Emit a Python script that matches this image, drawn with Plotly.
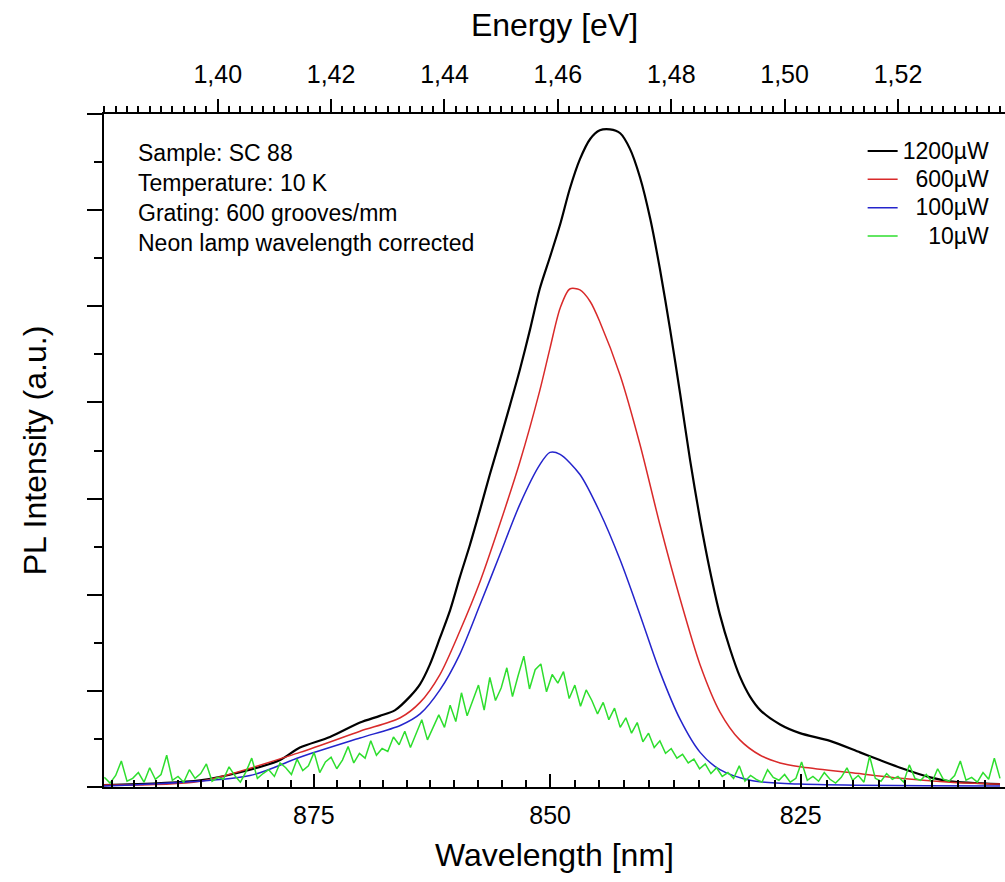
import plotly.graph_objects as go

HC = 1239.84  # eV * nm, photon energy <-> wavelength

# ---------------- data ----------------
series_labels = ["1200\u00b5W", "\u00a0\u00a0600\u00b5W", "\u00a0\u00a0100\u00b5W", "\u00a0\u00a0\u00a0\u00a010\u00b5W"]
series_colors = ["#000000", "#d92a2a", "#2424cc", "#2ede2e"]

black_energy = [1.3799, 1.3969, 1.4057, 1.4110, 1.4145, 1.4198, 1.4251, 1.4286, 1.4313, 1.4339,
                1.4357, 1.4374, 1.4392, 1.4410, 1.4427, 1.4445, 1.4463, 1.4480, 1.4498, 1.4516,
                1.4533, 1.4551, 1.4568, 1.4586, 1.4604, 1.4621, 1.4639, 1.4657, 1.4674, 1.4692,
                1.4710, 1.4727, 1.4745, 1.4763, 1.4780, 1.4798, 1.4816, 1.4833, 1.4851, 1.4868,
                1.4886, 1.4904, 1.4921, 1.4939, 1.4957, 1.4992, 1.5027, 1.5080, 1.5133, 1.5168,
                1.5204, 1.5257, 1.5292, 1.5380]
black_intensity = [0.02, 0.07, 0.18, 0.28, 0.41, 0.52, 0.67, 0.74, 0.80, 0.94,
                   1.07, 1.27, 1.55, 1.84, 2.18, 2.52, 2.89, 3.25, 3.61, 3.98,
                   4.34, 4.76, 5.18, 5.51, 5.85, 6.22, 6.53, 6.74, 6.83, 6.84,
                   6.80, 6.64, 6.34, 5.91, 5.39, 4.76, 4.08, 3.41, 2.78, 2.26,
                   1.79, 1.43, 1.15, 0.94, 0.80, 0.65, 0.56, 0.48, 0.36, 0.28,
                   0.20, 0.10, 0.06, 0.03]

red_energy = [1.3799, 1.3969, 1.4145, 1.4251, 1.4322, 1.4357, 1.4392, 1.4427, 1.4463, 1.4498,
              1.4533, 1.4568, 1.4586, 1.4604, 1.4621, 1.4639, 1.4657, 1.4674, 1.4710, 1.4745,
              1.4780, 1.4816, 1.4851, 1.4886, 1.4921, 1.4957, 1.4992, 1.5027, 1.5115, 1.5204,
              1.5292, 1.5380]
red_intensity = [0.02, 0.06, 0.36, 0.58, 0.72, 0.88, 1.17, 1.62, 2.14, 2.74,
                 3.38, 4.12, 4.56, 4.98, 5.18, 5.17, 5.05, 4.84, 4.28, 3.56,
                 2.73, 1.95, 1.27, 0.78, 0.49, 0.33, 0.25, 0.21, 0.15, 0.09,
                 0.05, 0.03]

blue_energy = [1.3799, 1.4057, 1.4145, 1.4251, 1.4322, 1.4357, 1.4392, 1.4427, 1.4463, 1.4498,
               1.4533, 1.4568, 1.4586, 1.4604, 1.4639, 1.4674, 1.4710, 1.4745, 1.4780, 1.4816,
               1.4851, 1.4886, 1.4939, 1.5027, 1.5380]
blue_intensity = [0.01, 0.12, 0.31, 0.51, 0.64, 0.76, 1.01, 1.38, 1.90, 2.42,
                  2.94, 3.35, 3.48, 3.46, 3.25, 2.86, 2.36, 1.79, 1.20, 0.70,
                  0.36, 0.18, 0.07, 0.03, 0.01]

green_energy = [1.380, 1.381, 1.382, 1.383, 1.384, 1.385, 1.386, 1.387, 1.388, 1.389,
                1.390, 1.391, 1.392, 1.393, 1.394, 1.395, 1.396, 1.397, 1.398, 1.399,
                1.400, 1.401, 1.402, 1.403, 1.404, 1.405, 1.406, 1.407, 1.408, 1.409,
                1.410, 1.411, 1.412, 1.413, 1.414, 1.415, 1.416, 1.417, 1.418, 1.419,
                1.420, 1.421, 1.422, 1.423, 1.424, 1.425, 1.426, 1.427, 1.428, 1.429,
                1.430, 1.431, 1.432, 1.433, 1.434, 1.435, 1.436, 1.437, 1.438, 1.439,
                1.440, 1.441, 1.442, 1.443, 1.444, 1.445, 1.446, 1.447, 1.448, 1.449,
                1.450, 1.451, 1.452, 1.453, 1.454, 1.455, 1.456, 1.457, 1.458, 1.459,
                1.460, 1.461, 1.462, 1.463, 1.464, 1.465, 1.466, 1.467, 1.468, 1.469,
                1.470, 1.471, 1.472, 1.473, 1.474, 1.475, 1.476, 1.477, 1.478, 1.479,
                1.480, 1.481, 1.482, 1.483, 1.484, 1.485, 1.486, 1.487, 1.488, 1.489,
                1.490, 1.491, 1.492, 1.493, 1.494, 1.495, 1.496, 1.497, 1.498, 1.499,
                1.500, 1.501, 1.502, 1.503, 1.504, 1.505, 1.506, 1.507, 1.508, 1.509,
                1.510, 1.511, 1.512, 1.513, 1.514, 1.515, 1.516, 1.517, 1.518, 1.519,
                1.520, 1.521, 1.522, 1.523, 1.524, 1.525, 1.526, 1.527, 1.528, 1.529,
                1.530, 1.531, 1.532, 1.533, 1.534, 1.535, 1.536, 1.537, 1.538]
green_intensity = [0.10, 0.04, 0.12, 0.27, 0.06, 0.09, 0.15, 0.05, 0.20, 0.08,
                   0.13, 0.33, 0.07, 0.11, 0.05, 0.18, 0.09, 0.14, 0.24, 0.06,
                   0.10, 0.08, 0.21, 0.12, 0.05, 0.16, 0.30, 0.09, 0.14, 0.18,
                   0.11, 0.25, 0.20, 0.13, 0.29, 0.17, 0.22, 0.36, 0.15, 0.26,
                   0.31, 0.19, 0.28, 0.42, 0.25, 0.35, 0.30, 0.48, 0.33, 0.40,
                   0.37, 0.52, 0.44, 0.58, 0.41, 0.55, 0.70, 0.49, 0.63, 0.75,
                   0.62, 0.85, 0.68, 0.98, 0.74, 0.90, 1.06, 0.80, 1.14, 0.90,
                   1.03, 1.24, 0.94, 1.16, 1.36, 1.02, 1.22, 1.28, 0.99, 1.17,
                   1.08, 1.20, 0.92, 1.06, 0.84, 1.01, 0.90, 0.76, 0.88, 0.70,
                   0.82, 0.62, 0.72, 0.56, 0.67, 0.47, 0.56, 0.41, 0.48, 0.35,
                   0.40, 0.30, 0.34, 0.25, 0.29, 0.19, 0.24, 0.14, 0.20, 0.11,
                   0.15, 0.09, 0.22, 0.06, 0.12, 0.08, 0.05, 0.18, 0.10, 0.07,
                   0.13, 0.05, 0.09, 0.26, 0.07, 0.11, 0.06, 0.15, 0.08, 0.04,
                   0.10, 0.20, 0.07, 0.12, 0.05, 0.32, 0.09, 0.06, 0.14, 0.08,
                   0.11, 0.05, 0.23, 0.09, 0.07, 0.13, 0.05, 0.19, 0.08, 0.06,
                   0.12, 0.27, 0.07, 0.10, 0.05, 0.15, 0.08, 0.30, 0.09]

energy_ticks = [1.40, 1.42, 1.44, 1.46, 1.48, 1.50, 1.52]
wavelength_major = [875, 850, 825]
wavelength_minor = [897.5, 895, 892.5, 890, 887.5, 885, 882.5, 880, 877.5,
                    872.5, 870, 867.5, 865, 862.5, 860, 857.5, 855, 852.5,
                    847.5, 845, 842.5, 840, 837.5, 835, 832.5, 830, 827.5,
                    822.5, 820, 817.5, 815, 812.5, 810, 807.5]

info_lines = ["Sample: SC 88", "Temperature: 10 K", "Grating: 600 grooves/mm",
              "Neon lamp wavelength corrected"]

energy_range = [1.37994, 1.53888]
intensity_range = [0, 7]

FONT = "Liberation Sans, Arial, Helvetica, sans-serif"

# ---------------- figure ----------------
fig = go.Figure()
for e, i, label, color, w, shape in [
    (black_energy, black_intensity, series_labels[0], series_colors[0], 2.2, "spline"),
    (red_energy, red_intensity, series_labels[1], series_colors[1], 1.5, "spline"),
    (blue_energy, blue_intensity, series_labels[2], series_colors[2], 1.5, "spline"),
    (green_energy, green_intensity, series_labels[3], series_colors[3], 1.5, "linear"),
]:
    fig.add_trace(go.Scatter(x=e, y=i, mode="lines",
                             name=f'<span style="font-size:23px">{label}</span>',
                             line=dict(color=color, width=w, shape=shape, smoothing=0.8)))

# invisible companion trace so the top (energy) axis is rendered
fig.add_trace(go.Scatter(x=energy_range, y=intensity_range, xaxis="x2", mode="lines",
                         line=dict(width=0, color="rgba(0,0,0,0)"),
                         showlegend=False, hoverinfo="skip"))

axis_common = dict(showgrid=False, zeroline=False, showline=True, linecolor="black",
                   linewidth=2, tickcolor="black", tickwidth=1.5)

fig.update_layout(
    width=1005, height=882,
    margin=dict(l=104, r=0, t=114, b=95, pad=0),
    paper_bgcolor="white", plot_bgcolor="white",
    separators=",.",
    font=dict(family=FONT, size=24, color="black"),
    showlegend=True,
    legend=dict(x=0.842, y=0.9735, xanchor="left", yanchor="top",
                bgcolor="rgba(0,0,0,0)", borderwidth=0,
                font=dict(size=19.5), itemwidth=30, tracegroupgap=0),
    xaxis=dict(
        **axis_common,
        range=energy_range,
        tickmode="array",
        tickvals=[HC / w for w in wavelength_major],
        ticktext=[str(w) for w in wavelength_major],
        ticks="inside", ticklen=13,
        ticklabelstandoff=5,
        minor=dict(tickmode="array", tickvals=[HC / w for w in wavelength_minor],
                   ticks="inside", ticklen=7, tickcolor="black", tickwidth=1.5),
        tickfont=dict(size=25),
        title=dict(text="Wavelength [nm]", font=dict(size=32), standoff=16),
    ),
    xaxis2=dict(
        **axis_common,
        range=energy_range,
        overlaying="x", side="top", anchor="y",
        tickmode="array", tickvals=energy_ticks, tickformat=".2f",
        ticks="outside", ticklen=13,
        minor=dict(tick0=1.40, dtick=0.002, ticks="outside", ticklen=6,
                   tickcolor="black", tickwidth=1.5),
        tickfont=dict(size=25),
        ticklabelstandoff=6,
        title=dict(text="Energy [eV]", font=dict(size=32), standoff=14),
    ),
    yaxis=dict(
        **axis_common,
        range=intensity_range,
        dtick=1, ticks="outside", ticklen=15,
        showticklabels=False,
        minor=dict(dtick=0.5, ticks="outside", ticklen=8, tickcolor="black", tickwidth=1.5),
        title=dict(text="PL Intensity (a.u.)", font=dict(size=32), standoff=31),
    ),
    annotations=[dict(
        text="<br>".join(info_lines), xref="paper", yref="paper",
        x=0.036, y=0.964, xanchor="left", yanchor="top", align="left",
        showarrow=False, font=dict(size=23),
    )],
    shapes=[
        dict(type="line", xref="paper", yref="paper", x0=-0.016, x1=0, y0=1, y1=1,
             line=dict(color="black", width=2)),
        dict(type="line", xref="paper", yref="paper", x0=-0.016, x1=0, y0=0, y1=0,
             line=dict(color="black", width=2)),
    ],
)

fig.write_html("out.html")
